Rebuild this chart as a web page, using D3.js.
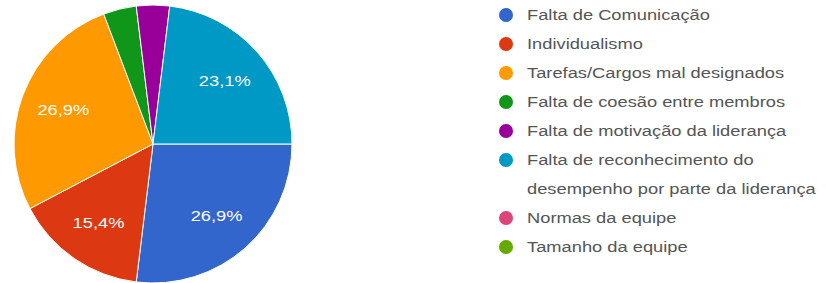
<!DOCTYPE html>
<html>
<head>
<meta charset="utf-8">
<script src="https://cdn.jsdelivr.net/npm/d3@7"></script>
<style>
  body { margin: 0; background: #fff; }
  text { font-family: "Liberation Sans", Arial, sans-serif; }
</style>
</head>
<body>
<svg id="chart" width="826" height="283"></svg>
<script>
const categories = [
  'Falta de Comunicação',
  'Individualismo',
  'Tarefas/Cargos mal designados',
  'Falta de coesão entre membros',
  'Falta de motivação da liderança',
  ['Falta de reconhecimento do', 'desempenho por parte da liderança'],
  'Normas da equipe',
  'Tamanho da equipe'
];
const counts = [7, 4, 7, 1, 1, 6, 0, 0];
const colors = ['#3366cc', '#dc3912', '#ff9900', '#109618', '#990099', '#0099c6', '#dd4477', '#66aa00'];

const svg = d3.select('#chart');
const total = d3.sum(counts);
const stretch = 1.22; // text in the picture is drawn wide

const data = categories.map((c, i) => ({ name: c, value: counts[i], color: colors[i] }));

// pie, starting at 3 o'clock, clockwise
const pie = d3.pie()
  .sort(null)
  .value(d => d.value)
  .startAngle(Math.PI / 2)
  .endAngle(Math.PI / 2 + 2 * Math.PI);

const radius = 139;
const arc = d3.arc().innerRadius(0).outerRadius(radius);
const labelArc = d3.arc().innerRadius(radius * 0.69).outerRadius(radius * 0.69);

const g = svg.append('g').attr('transform', 'translate(153,144)');

const slices = pie(data).filter(d => d.data.value > 0);

g.selectAll('path')
  .data(slices)
  .enter()
  .append('path')
  .attr('d', arc)
  .attr('fill', d => d.data.color)
  .attr('stroke', '#fff')
  .attr('stroke-width', 1);

const fmt = v => (Math.round(v / total * 1000) / 10).toFixed(1).replace('.', ',') + '%';

g.selectAll('text.pct')
  .data(slices.filter(d => d.data.value / total > 0.05))
  .enter()
  .append('text')
  .attr('class', 'pct')
  .attr('transform', d => `translate(${labelArc.centroid(d)}) scale(${stretch},1)`)
  .attr('text-anchor', 'middle')
  .attr('dy', '0.35em')
  .attr('fill', '#fff')
  .style('font-size', '15px')
  .text(d => fmt(d.data.value));

// legend
const rowY = d3.scaleLinear().domain([0, 1]).range([15, 44]);
let row = 0;
const legend = svg.append('g');
data.forEach(d => {
  const lines = Array.isArray(d.name) ? d.name : [d.name];
  const y = rowY(row);
  legend.append('circle')
    .attr('cx', 506)
    .attr('cy', y)
    .attr('r', 7)
    .attr('fill', d.color);
  lines.forEach((t, k) => {
    legend.append('text')
      .attr('transform', `translate(527,${rowY(row + k)}) scale(${stretch},1)`)
      .attr('dy', '0.35em')
      .attr('fill', '#555')
      .style('font-size', '15px')
      .text(t);
  });
  row += lines.length;
});
</script>
</body>
</html>
